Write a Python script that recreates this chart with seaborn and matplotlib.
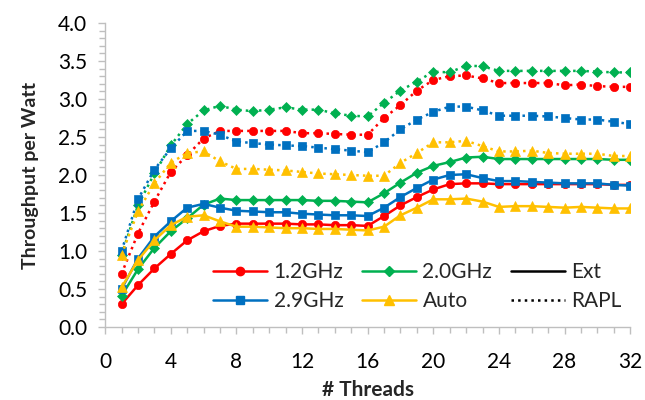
import matplotlib
matplotlib.use("Agg")
import matplotlib.pyplot as plt
from matplotlib.lines import Line2D
from matplotlib.ticker import MultipleLocator
import seaborn as sns
import pandas as pd

threads = list(range(1, 33))

# Ext (solid)
ext_12 = [0.30, 0.55, 0.77, 0.96, 1.14, 1.26, 1.33, 1.36, 1.36, 1.36, 1.36, 1.35, 1.35, 1.34, 1.34, 1.33,
          1.46, 1.60, 1.71, 1.81, 1.88, 1.89, 1.89, 1.88, 1.88, 1.88, 1.88, 1.88, 1.88, 1.88, 1.87, 1.87]
ext_20 = [0.41, 0.76, 1.04, 1.26, 1.43, 1.61, 1.69, 1.67, 1.67, 1.67, 1.67, 1.67, 1.66, 1.66, 1.65, 1.64,
          1.76, 1.90, 2.03, 2.12, 2.17, 2.23, 2.24, 2.21, 2.21, 2.21, 2.21, 2.21, 2.21, 2.21, 2.20, 2.20]
ext_29 = [0.50, 0.90, 1.19, 1.39, 1.57, 1.62, 1.57, 1.53, 1.52, 1.51, 1.51, 1.49, 1.48, 1.47, 1.47, 1.46,
          1.57, 1.71, 1.83, 1.94, 2.00, 2.01, 1.96, 1.92, 1.92, 1.91, 1.90, 1.89, 1.89, 1.89, 1.87, 1.86]
ext_auto = [0.52, 0.88, 1.14, 1.34, 1.45, 1.47, 1.39, 1.32, 1.32, 1.31, 1.30, 1.30, 1.29, 1.29, 1.28, 1.27,
            1.32, 1.47, 1.57, 1.68, 1.68, 1.69, 1.65, 1.58, 1.59, 1.59, 1.58, 1.57, 1.58, 1.57, 1.56, 1.56]

# RAPL (dotted)
rapl_12 = [0.70, 1.23, 1.65, 2.04, 2.26, 2.48, 2.58, 2.58, 2.58, 2.58, 2.58, 2.55, 2.55, 2.54, 2.53, 2.53,
           2.75, 2.92, 3.11, 3.25, 3.30, 3.31, 3.27, 3.21, 3.21, 3.21, 3.21, 3.18, 3.19, 3.17, 3.16, 3.16]
rapl_20 = [0.95, 1.60, 2.02, 2.39, 2.67, 2.85, 2.91, 2.86, 2.84, 2.86, 2.89, 2.86, 2.86, 2.81, 2.78, 2.77,
           2.95, 3.11, 3.23, 3.36, 3.35, 3.44, 3.43, 3.37, 3.37, 3.37, 3.37, 3.37, 3.37, 3.36, 3.35, 3.35]
rapl_29 = [1.00, 1.68, 2.07, 2.35, 2.58, 2.58, 2.53, 2.44, 2.42, 2.40, 2.39, 2.38, 2.36, 2.34, 2.32, 2.30,
           2.43, 2.60, 2.73, 2.83, 2.90, 2.90, 2.85, 2.78, 2.78, 2.78, 2.77, 2.75, 2.73, 2.73, 2.70, 2.67]
rapl_auto = [0.95, 1.52, 1.89, 2.16, 2.29, 2.31, 2.18, 2.08, 2.08, 2.07, 2.06, 2.04, 2.02, 2.01, 2.00, 1.99,
             1.99, 2.16, 2.29, 2.43, 2.43, 2.45, 2.38, 2.31, 2.31, 2.32, 2.29, 2.28, 2.28, 2.28, 2.25, 2.25]

colors = {"1.2GHz": "#FF0000", "2.0GHz": "#00B050", "2.9GHz": "#0070C0", "Auto": "#FFC000"}
markers = {"1.2GHz": "o", "2.0GHz": "D", "2.9GHz": "s", "Auto": "^"}
msizes = {"1.2GHz": 6, "2.0GHz": 5, "2.9GHz": 6, "Auto": 7}

series = {
    ("Ext", "1.2GHz"): ext_12, ("Ext", "2.0GHz"): ext_20, ("Ext", "2.9GHz"): ext_29, ("Ext", "Auto"): ext_auto,
    ("RAPL", "1.2GHz"): rapl_12, ("RAPL", "2.0GHz"): rapl_20, ("RAPL", "2.9GHz"): rapl_29, ("RAPL", "Auto"): rapl_auto,
}

sns.set_style("white")
plt.rcParams['font.family'] = ['Lato', 'DejaVu Sans']

fig = plt.figure(figsize=(6.45, 4.0), dpi=100)
ax = fig.add_axes([0.163, 0.1825, 0.814, 0.76])

for (src, fq), vals in series.items():
    df = pd.DataFrame({'Threads': threads, 'TPW': vals})
    sns.lineplot(data=df, x='Threads', y='TPW', ax=ax, color=colors[fq],
                 linestyle='-' if src == 'Ext' else ':', linewidth=1.8,
                 marker=markers[fq], markersize=msizes[fq], markeredgewidth=0.5,
                 markeredgecolor=colors[fq], legend=False)

ax.set_xlim(0, 32)
ax.set_ylim(0, 4.0)
ax.xaxis.set_major_locator(MultipleLocator(4))
ax.xaxis.set_minor_locator(MultipleLocator(1))
ax.yaxis.set_major_locator(MultipleLocator(0.5))
ax.yaxis.set_minor_locator(MultipleLocator(0.1))
ax.yaxis.set_major_formatter(plt.FormatStrFormatter('%.1f'))

for s in ['top', 'right']:
    ax.spines[s].set_visible(False)
for s in ['left', 'bottom']:
    ax.spines[s].set_color('#BFBFBF')
    ax.spines[s].set_linewidth(1.0)

ax.tick_params(which='major', direction='out', length=5, width=1, color='#BFBFBF',
               labelsize=15, labelcolor='black', left=True, bottom=True)
ax.tick_params(which='minor', direction='out', length=4, width=1, color='#BFBFBF', left=True, bottom=True)
ax.tick_params(axis='x', which='major', pad=13)
ax.tick_params(axis='y', which='major', pad=8)

ax.set_xlabel('# Threads', fontsize=15, fontweight='bold', labelpad=6)
ax.set_ylabel('Throughput per Watt', fontsize=14, fontweight='bold', labelpad=14)

handles = [
    Line2D([], [], color=colors["1.2GHz"], marker='o', markersize=6, linewidth=1.8),
    Line2D([], [], color=colors["2.9GHz"], marker='s', markersize=6, linewidth=1.8),
    Line2D([], [], color=colors["2.0GHz"], marker='D', markersize=5, linewidth=1.8),
    Line2D([], [], color=colors["Auto"], marker='^', markersize=7, linewidth=1.8),
    Line2D([], [], color='black', linestyle='-', linewidth=1.8),
    Line2D([], [], color='black', linestyle=':', linewidth=1.8),
]
labels = ["1.2GHz", "2.9GHz", "2.0GHz", "Auto", "Ext", "RAPL"]
ax.legend(handles, labels, ncol=3, frameon=False, fontsize=15, loc='lower left',
          bbox_to_anchor=(0.17, -0.01), handlelength=2.6, columnspacing=0.9,
          handletextpad=0.3, labelspacing=0.45)

fig.savefig('out.png', dpi=100)
